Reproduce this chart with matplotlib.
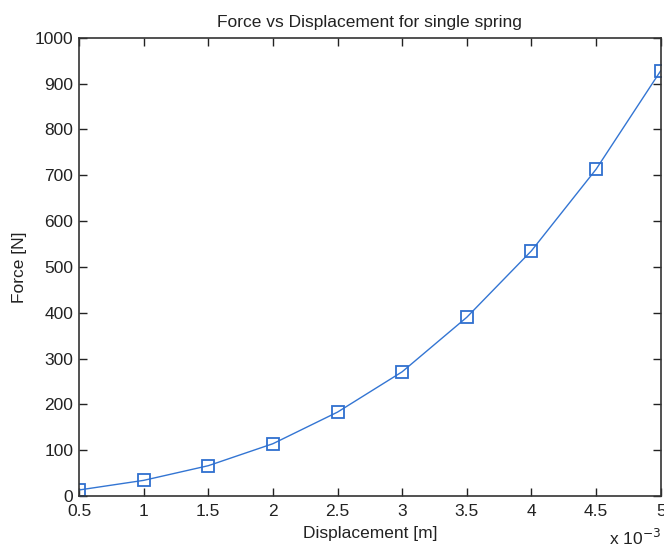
import matplotlib
matplotlib.use("Agg")
import matplotlib.pyplot as plt
from matplotlib.ticker import FuncFormatter, MultipleLocator

plt.rcParams['font.family'] = ['Liberation Sans', 'DejaVu Sans']

# Spring force measurements
displacement_m = [0.5e-3, 1.0e-3, 1.5e-3, 2.0e-3, 2.5e-3, 3.0e-3, 3.5e-3, 4.0e-3, 4.5e-3, 5.0e-3]
force_n = [13, 34, 66, 114, 183, 271, 390, 535, 713, 928]

fig = plt.figure(figsize=(6.64, 5.48), dpi=100)
ax = fig.add_axes([0.119, 0.095, 0.876, 0.836])

ax.plot(displacement_m, force_n, color='#3375d3', linewidth=1.0,
        marker='s', markersize=9, markerfacecolor='none',
        markeredgecolor='#2f6fcf', markeredgewidth=1.3)

ax.set_xlim(0.5e-3, 5e-3)
ax.set_ylim(0, 1000)
ax.xaxis.set_major_locator(MultipleLocator(0.5e-3))
ax.yaxis.set_major_locator(MultipleLocator(100))
ax.xaxis.set_major_formatter(FuncFormatter(lambda v, p: f"{v * 1e3:g}"))

ax.tick_params(direction='in', top=True, right=True, length=6, width=1,
               labelsize=12.5, colors='#222222')
ax.tick_params(axis='x', pad=6)
ax.tick_params(axis='y', pad=4)
for s in ax.spines.values():
    s.set_linewidth(1.2)
    s.set_color('#333333')

ax.set_title('Force vs Displacement for single spring', fontsize=12.5, color='#222222', pad=8)
ax.set_xlabel('Displacement [m]', fontsize=12.5, color='#222222', labelpad=5)
ax.set_ylabel('Force [N]', fontsize=12.5, color='#222222', labelpad=6)

fig.text(0.995, 0.0, r'x 10$^{-3}$', ha='right', va='bottom', fontsize=12.5, color='#222222')

fig.savefig('out.png', dpi=100)
